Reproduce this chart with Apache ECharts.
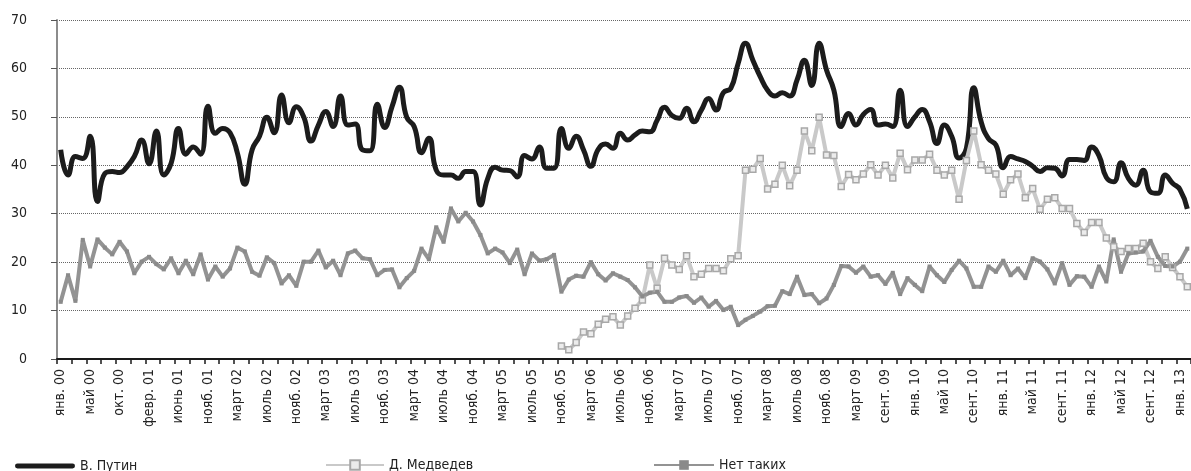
<!DOCTYPE html>
<html><head><meta charset="utf-8">
<script src="https://cdn.jsdelivr.net/npm/echarts@6/dist/echarts.min.js"></script>
<style>html,body{margin:0;padding:0;background:#fff}#c{width:1191px;height:471px}</style>
</head><body><div id="c"></div>
<script>
const tickLabels = ['янв. 00','май 00','окт. 00','февр. 01','июнь 01','нояб. 01','март 02','июль 02','нояб. 02','март 03','июль 03','нояб. 03','март 04','июль 04','нояб. 04','март 05','июль 05','нояб. 05','март 06','июль 06','нояб. 06','март 07','июль 07','нояб. 07','март 08','июль 08','нояб. 08','март 09','сент. 09','янв. 10','май 10','сент. 10','янв. 11','май 11','сент. 11','янв. 12','май 12','сент. 12','янв. 13'];

const putin = [
43.2,38,41.8,41.4,46,32.5,38.3,38.7,38.5,39.7,
41.8,45.2,40.3,47.1,38,40.4,47.6,42.3,43.8,42.3,
52.2,46.6,47.6,46.7,42.5,36.1,43.2,46,49.9,46.7,
54.5,48.8,52.1,50,45,48.3,51.1,48,54.3,48.3,
48.5,43.2,43,52.6,47.8,52.1,56.1,49.9,48,42.6,
45.6,39,38,38,37.3,38.7,38.7,31.8,37.3,39.6,
39,38.9,37.6,42,41.3,43.8,39.4,39.4,47.6,43.5,
46,43.2,39.8,43.3,44.4,43.5,46.6,45.2,46.3,47.1,
46.9,49.3,52,50.3,49.7,51.8,49,51.4,53.8,51.4,
55,55.9,61,65.2,61.7,58.3,55.5,54.3,55,54.3,
57.6,61.7,56.5,65.2,59.7,55.5,48,50.7,48.3,50.5,
51.5,48.3,48.5,48,55.5,48,50,51.5,49,44.5,
48.3,46,41.5,43.5,56,49,45.5,44.2,39.5,41.8,
41.3,40.8,39.8,38.7,39.5,39.4,37.8,41.2,41.2,41,
43.8,42,37.5,36.6,40.5,37.3,35.9,39,34.5,34.2,
38,36.3,35,31];

const medvedevStart = 68;
const medvedev = [
2.7,1.9,3.4,5.6,5.2,7.2,8.2,8.7,7.0,8.9,
10.5,12.2,19.4,14.6,20.8,19.4,18.5,21.3,17.0,17.5,
18.7,18.7,18.2,20.7,21.3,39.0,39.2,41.4,35.1,36.1,
40.0,35.8,39.0,47.1,43.0,49.9,42.1,42.0,35.6,38.1,
37.0,38.2,40.1,38.0,40.0,37.4,42.5,39.1,41.1,41.1,
42.3,39,38,39,33,41,47.1,40.1,39,38.2,
34,37,38.2,33.3,35.2,30.9,33,33.3,31.1,31.1,
28,26.1,28.2,28.2,25,23.2,22.2,22.8,22.8,23.9,
20.1,18.7,21.1,18.9,17,14.9];

const noOne = [
11.8,17.3,12,24.6,19.1,24.7,23,21.6,24.2,22.2,
17.7,20.1,21.1,19.6,18.5,20.8,17.7,20.3,17.5,21.6,
16.4,19.1,17,18.7,23,22.2,18,17.2,21,19.8,
15.6,17.3,15.1,20.1,20.1,22.4,18.9,20.3,17.3,21.8,
22.4,20.8,20.6,17.3,18.4,18.5,14.8,16.7,18.2,22.8,
20.6,27.2,24.2,31.1,28.4,30.2,28.4,25.6,21.8,22.8,
22,19.8,22.6,17.5,21.8,20.3,20.6,21.5,13.9,16.4,
17.2,17,20,17.5,16.2,17.7,17,16.3,14.8,12.9,
13.7,13.9,11.8,11.8,12.7,13,11.6,12.7,10.8,12,
10.1,10.8,7,8.1,8.9,9.8,10.9,11,14,13.4,
17,13.2,13.4,11.5,12.5,15.3,19.2,19.1,17.8,19.1,
17,17.3,15.5,17.8,13.4,16.7,15.3,14,19.1,17.3,
15.9,18.4,20.3,18.7,14.9,14.9,19.1,18,20.3,17.3,
18.7,16.7,20.8,20.1,18.5,15.6,19.8,15.3,17.1,17,
14.9,19.1,16,24.7,18,21.8,22,22.2,24.4,21.1,
19.2,19.1,20.1,22.8];

const seriesNames = ['В. Путин','Д. Медведев','Нет таких'];

const categories = putin.map((_, i) => (i % 4 === 0 && tickLabels[i / 4]) ? tickLabels[i / 4] : '');
const medvedevData = putin.map((_, i) => i >= medvedevStart ? medvedev[i - medvedevStart] : null);

const FONT = "'Liberation Sans Narrow','DejaVu Sans Condensed','Roboto Condensed',Roboto,sans-serif";

const chart = echarts.init(document.getElementById('c'), null, {renderer: 'canvas'});
const legendText = {fontFamily: FONT, fontSize: 14, color: '#222'};
chart.setOption({
  animation: false,
  backgroundColor: '#fff',
  grid: {left: 57, right: -4, top: 20, bottom: 112, containLabel: false},
  legend: [
    {data: [seriesNames[0]], icon: 'path://M2,0L58,0A2.5,2.5,0,0,1,58,5L2,5A2.5,2.5,0,0,1,2,0Z',
     itemStyle: {color: '#1c1c1c', borderWidth: 0},
     left: 15, top: 459, padding: 0, itemWidth: 60, itemHeight: 5, textStyle: legendText},
    {data: [seriesNames[1]], left: 325, top: 458, padding: 0, itemWidth: 58, itemHeight: 12, textStyle: legendText},
    {data: [seriesNames[2]], left: 653, top: 458, padding: 0, itemWidth: 60, itemHeight: 12, textStyle: legendText}
  ],
  xAxis: {
    type: 'category', data: categories, boundaryGap: true,
    axisLine: {lineStyle: {color: '#1a1a1a', width: 2}},
    axisTick: {show: true, interval: 1, length: 5, lineStyle: {color: '#1a1a1a', width: 1.5}},
    axisLabel: {interval: 3, rotate: 90, margin: 10, fontFamily: FONT, fontSize: 14, color: '#222'},
    splitLine: {show: false}
  },
  yAxis: {
    type: 'value', min: 0, max: 70, interval: 10,
    axisLine: {show: true, lineStyle: {color: '#8c8c8c', width: 2}},
    axisTick: {show: true, length: 6, lineStyle: {color: '#555'}},
    axisLabel: {margin: 30, fontFamily: FONT, fontSize: 14, color: '#222'},
    splitLine: {lineStyle: {color: '#666', width: 1, type: [1, 1]}}
  },
  series: [
    {name: seriesNames[0], type: 'line', data: putin, smooth: 0.5, symbol: 'none',
     lineStyle: {color: '#1c1c1c', width: 5}, itemStyle: {color: '#1c1c1c'}},
    {name: seriesNames[1], type: 'line', data: medvedevData, symbol: 'rect', symbolSize: 6,
     showAllSymbol: true,
     lineStyle: {color: '#c9c9c9', width: 4},
     itemStyle: {color: '#ececec', borderColor: '#a8a8a8', borderWidth: 1.5}},
    {name: seriesNames[2], type: 'line', data: noOne, symbol: 'rect', symbolSize: 4,
     showAllSymbol: true,
     lineStyle: {color: '#939393', width: 4},
     itemStyle: {color: '#8a8a8a', borderWidth: 0}}
  ]
});
</script>
</body></html>
